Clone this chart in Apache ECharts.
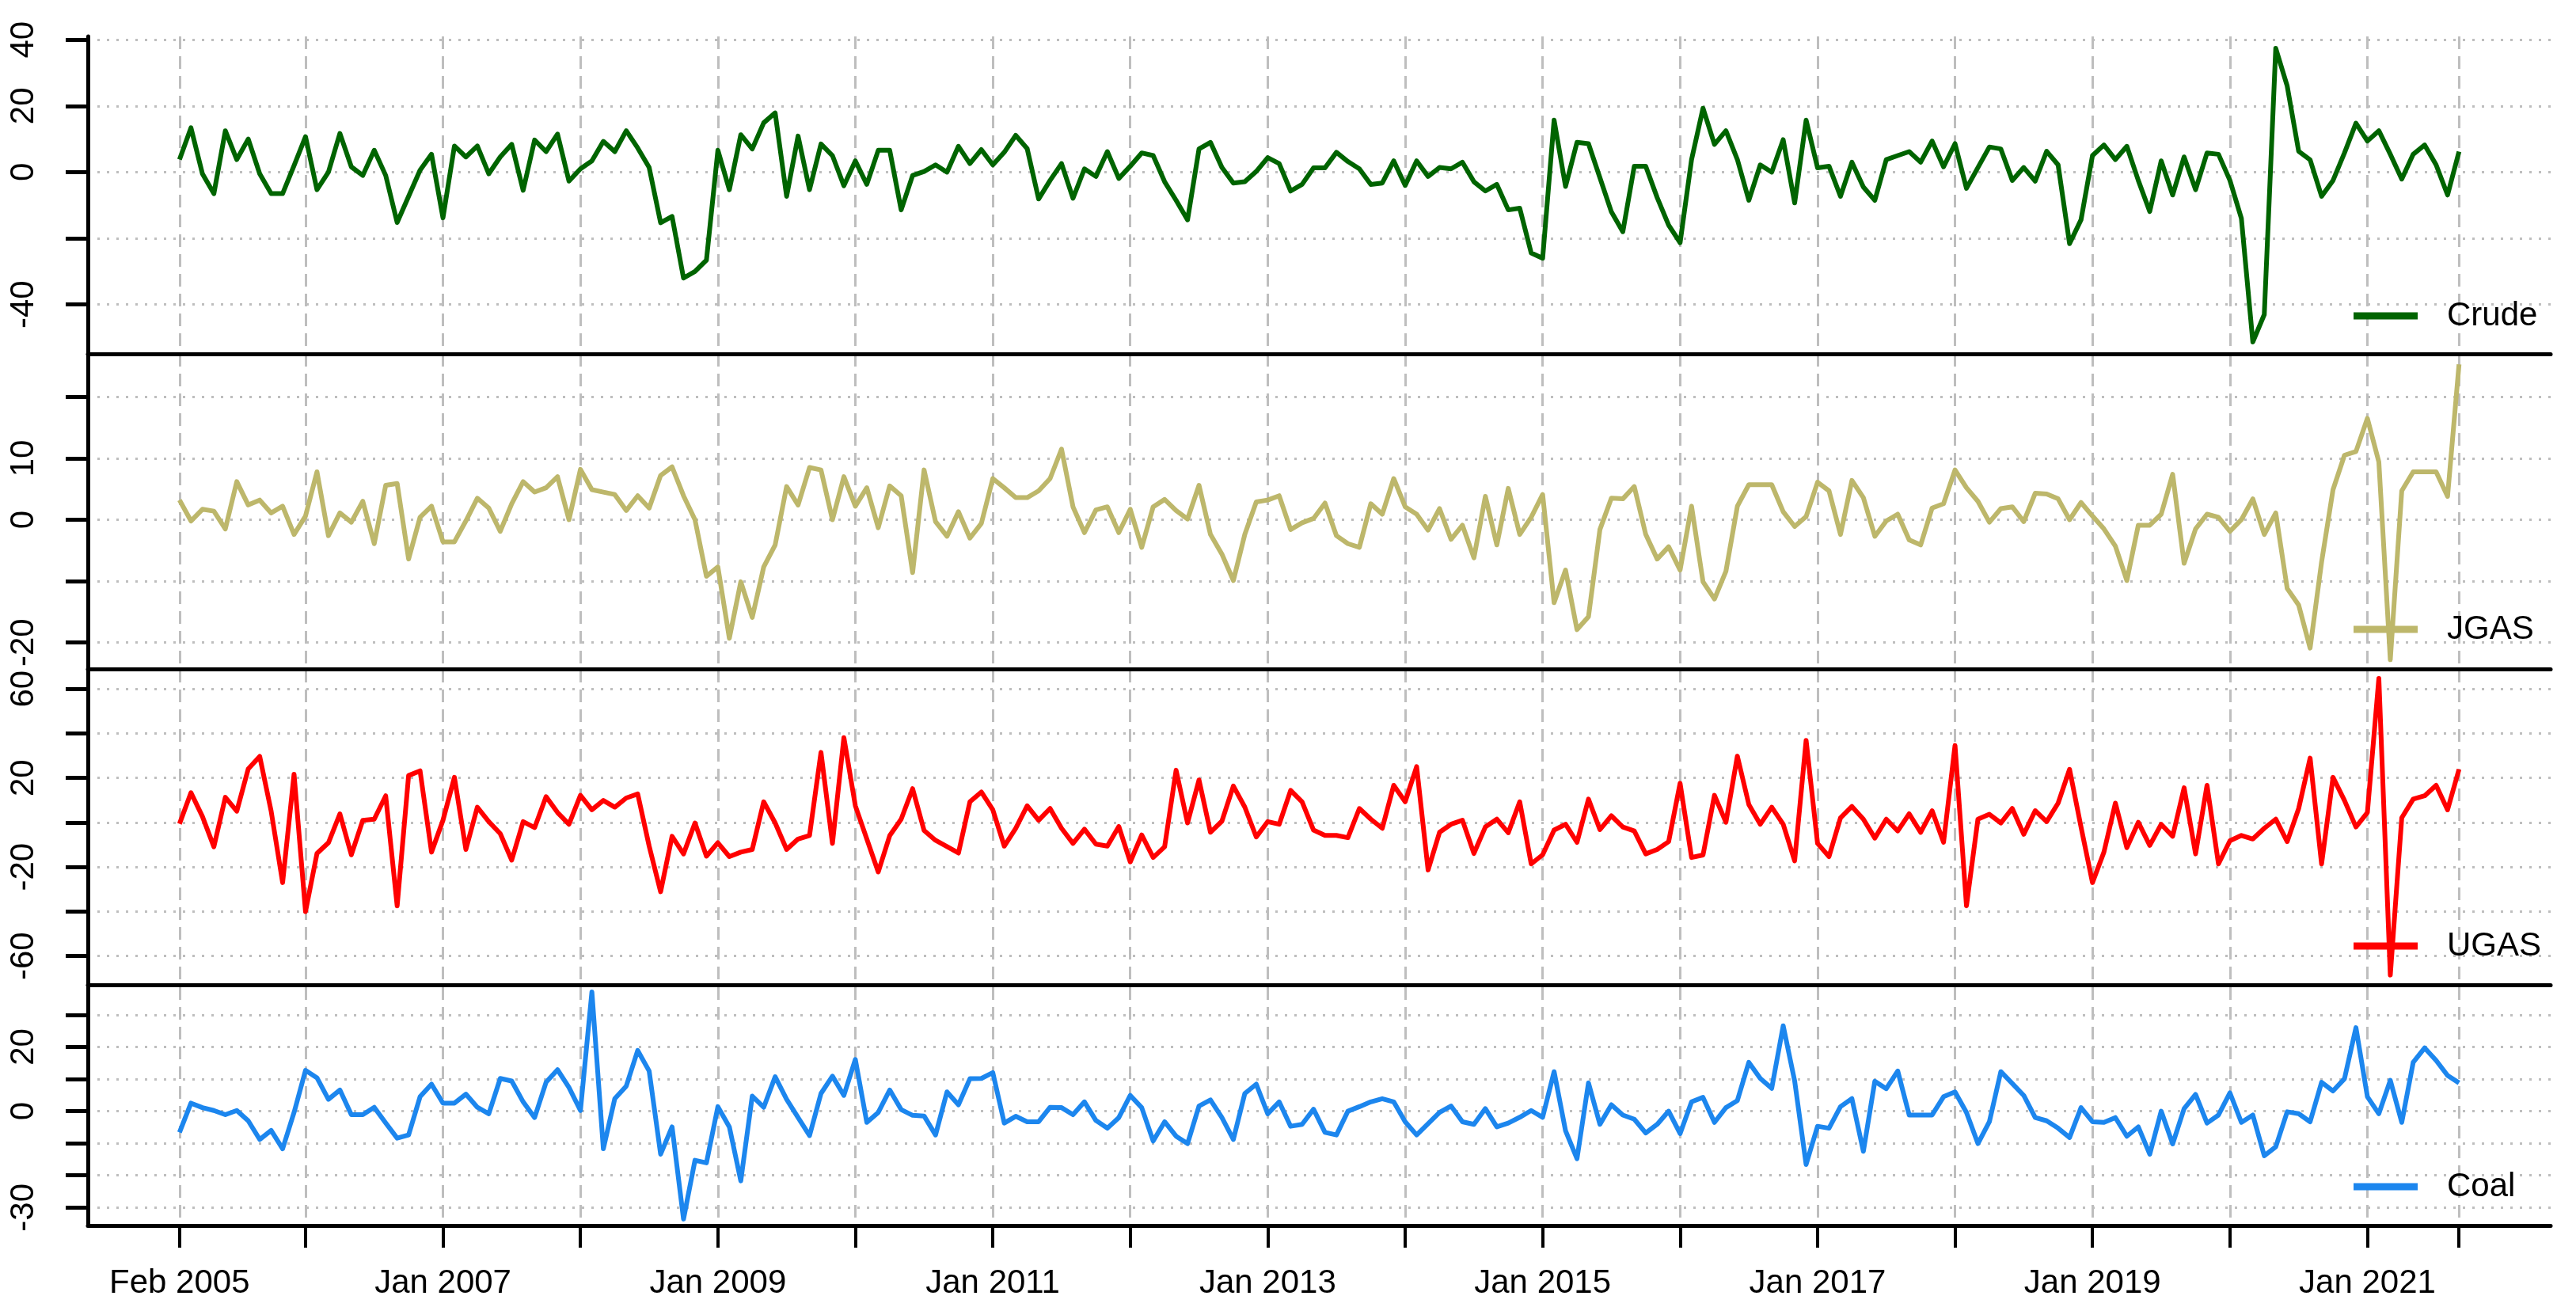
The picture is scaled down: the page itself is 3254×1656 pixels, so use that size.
<!DOCTYPE html>
<html>
<head>
<meta charset="utf-8">
<script src="https://cdn.jsdelivr.net/npm/echarts@6/dist/echarts.min.js"></script>
<style>
  html, body { margin: 0; padding: 0; background: #fff; }
  #chart-container { width: 3254px; height: 1656px; }
</style>
</head>
<body>
<div id="chart-container"></div>
<script>
// monthly values, Feb 2005 .. Sep 2021
const crude = [
  3.8, 13.4, -0.5, -6.5, 12.5, 3.8, 10, -0.5, -6.5, -6.5,
  2, 10.7, -5.3, 0, 11.7, 1.6, -1, 6.6, -1, -15.2,
  -7.3, 0.6, 5.4, -13.8, 7.9, 4.6, 7.9, -0.5, 4.6, 8.4,
  -5.5, 9.7, 6.2, 11.5, -2.7, 1, 3.4, 9.3, 6.2, 12.5,
  7.3, 1.4, -15.3, -13.4, -32, -30, -26.6, 6.6, -5.3, 11.3,
  7, 14.9, 17.9, -7.3, 10.9, -5.3, 8.5, 5, -4.1, 3.4,
  -3.7, 6.6, 6.6, -11.4, -1, 0.2, 2.2, 0, 7.8, 2.6,
  6.8, 2.2, 6, 11.1, 7.1, -8.1, -2.5, 2.6, -7.9, 1,
  -1.3, 6.2, -1.9, 1.8, 5.8, 5, -2.9, -8.5, -14.4, 7,
  9, 1.4, -3.3, -2.9, 0.2, 4.4, 2.6, -5.7, -3.7, 1.3,
  1.3, 6, 3.2, 1, -3.7, -3.3, 3.4, -4, 3.4, -1.3,
  1.4, 1, 3, -2.9, -5.7, -3.7, -11.4, -10.9, -24.4, -26,
  15.7, -4.3, 9, 8.6, -1.7, -12, -18, 1.8, 1.8, -7.7,
  -16, -21.3, 3.8, 19.3, 8.4, 12.5, 3.8, -8.5, 2.2, 0,
  9.8, -9.3, 15.7, 1.3, 1.8, -7.3, 3, -4.5, -8.5, 3.8,
  5, 6.2, 3, 9.4, 1.6, 8.6, -4.9, 1.4, 7.6, 7,
  -2.5, 1.4, -2.7, 6.3, 2.2, -21.6, -14.4, 5, 8.2, 3.8,
  7.8, -2.5, -11.9, 3.4, -6.9, 4.6, -5.3, 5.8, 5.4, -2.5,
  -14, -51.3, -43, 37.4, 26, 6.3, 3.7, -7.3, -2.5, 5.8,
  14.8, 9.4, 12.5, 5.4, -2.1, 5.4, 8.2, 2.2, -6.9, 6.2
];
const jgas = [
  3.2, -0.2, 1.7, 1.4, -1.5, 6.2, 2.4, 3.2, 1.1, 2.2,
  -2.4, 0.6, 7.8, -2.6, 1.1, -0.4, 3, -3.9, 5.6, 5.9,
  -6.4, 0.4, 2.2, -3.6, -3.6, -0.2, 3.5, 1.9, -1.9, 2.6,
  6.2, 4.5, 5.2, 7, 0, 8.2, 4.9, 4.5, 4.1, 1.5,
  3.9, 1.9, 7.2, 8.6, 3.9, 0, -9.2, -7.7, -19.3, -10.1,
  -15.9, -7.7, -4.1, 5.4, 2.4, 8.5, 8.1, 0, 7, 2.2,
  5.2, -1.3, 5.5, 3.9, -8.6, 8.1, -0.3, -2.7, 1.3, -3,
  -0.6, 6.7, 5.2, 3.6, 3.6, 4.7, 6.7, 11.5, 2.1, -2.1,
  1.6, 2.1, -2.1, 1.7, -4.5, 2.1, 3.3, 1.5, 0.1, 5.6,
  -2.4, -5.6, -9.9, -2.4, 2.9, 3.2, 3.9, -1.6, -0.5, 0.2,
  2.7, -2.6, -3.9, -4.5, 2.6, 0.9, 6.7, 2.1, 0.9, -1.7,
  1.8, -3.2, -0.9, -6.2, 3.8, -4.1, 5.1, -2.4, 0.4, 4.1,
  -13.5, -8.2, -17.9, -15.8, -1.6, 3.5, 3.4, 5.4, -2.4, -6.4,
  -4.4, -8.2, 2.2, -10.1, -12.9, -8.4, 2.2, 5.7, 5.7, 5.7,
  1.3, -1.1, 0.5, 6.1, 4.7, -2.4, 6.4, 3.6, -2.7, -0.2,
  0.9, -3.3, -4.1, 1.9, 2.6, 8.1, 5.2, 3, -0.4, 1.8,
  2.1, -0.3, 4.3, 4.2, 3.4, 0, 2.8, 0.6, -1.5, -4.3,
  -9.9, -0.9, -0.9, 0.9, 7.4, -7.1, -1.5, 0.9, 0.4, -1.9,
  0, 3.4, -2.4, 1.1, -11.2, -13.9, -20.9, -6.9, 4.9, 10.5,
  11.1, 16.5, 9.4, -22.8, 4.7, 7.8, 7.8, 7.8, 3.8, 25.3
];
const ugas = [
  -0.6, 13.4, 2.7, -10.9, 11.3, 5.1, 24.1, 29.7, 5.1, -27,
  21.7, -40, -13.9, -9.1, 3.9, -14.5, 1, 1.5, 12, -37.4,
  21.1, 23.2, -13.3, 1, 20.3, -12.1, 6.9, 0.4, -5, -16.9,
  0.4, -2.3, 11.6, 4.5, -0.8, 12.2, 5.7, 9.9, 6.9, 11,
  12.8, -10.6, -31.1, -6.2, -14.1, -0.2, -15.1, -9.1, -15.3, -13.3,
  -12.1, 9.3, -0.2, -12.1, -7.4, -5.8, 31.5, -9.4, 38.1, 7.5,
  -7.4, -22.2, -5.9, 1.5, 15.2, -3.6, -8, -10.8, -13.7, 9.3,
  13.7, 5.7, -10.6, -2.6, 7.5, 1, 6.3, -2.6, -9.4, -3,
  -9.7, -10.6, -1.8, -17.7, -5.6, -15.7, -10.9, 23.5, -0.2, 19.1,
  -4.4, 0.6, 16.4, 6.9, -6.5, 0.4, -0.8, 14.4, 9.3, -3.4,
  -5.8, -5.8, -6.8, 6.3, 1.5, -2.6, 16.7, 9.3, 25.1, -21.3,
  -4.4, -0.8, 1, -13.9, -2, 1.5, -4.6, 9.3, -18.6, -14.5,
  -3.4, -0.8, -8.9, 10.5, -3.2, 3, -2, -3.8, -14.1, -12.1,
  -8.6, 17.6, -15.7, -14.6, 12.2, 0.1, 29.8, 8.1, -0.8, 6.9,
  -0.8, -17.2, 36.9, -9.4, -15.3, 2.1, 7.2, 1.5, -7, 1.5,
  -3.8, 3.9, -4.4, 5.3, -8.9, 34.6, -37.4, 1.5, 3.7, -0.2,
  6.3, -5.3, 5.3, 0.4, 8.7, 23.9, -2, -27, -13.3, 8.7,
  -11.3, 0.1, -10.3, -0.8, -6.2, 15.6, -14.1, 16.7, -18.6, -8.2,
  -5.8, -7.4, -2.6, 1.5, -8.6, 6.3, 28.9, -18.6, 20.3, 9.9,
  -2, 4.5, 64.7, -68.5, 2.1, 10.5, 12, 16.7, 5.7, 23.9
];
const coal = [
  -6.6, 2.5, 1.1, 0.2, -1.1, 0.2, -3, -8.8, -6, -11.7,
  -0.4, 12.7, 10.4, 3.7, 6.6, -1.1, -1.1, 1.2, -3.7, -8.4,
  -7.4, 4.5, 8.4, 2.5, 2.5, 5.3, 1.2, -0.8, 10.2, 9.4,
  2.9, -2, 9, 12.9, 7.4, 0.2, 37.1, -11.7, 3.9, 7.8,
  18.9, 12.5, -13.4, -4.9, -33.6, -15.3, -16.1, 1.4, -4.9, -21.7,
  4.7, 1.2, 10.7, 3.7, -2, -7.6, 5.5, 10.9, 4.9, 16.1,
  -3.5, -0.4, 6.6, 0.5, -1.3, -1.5, -7.4, 6, 2, 10.1,
  10.2, 12, -3.7, -1.6, -3.3, -3.3, 1.2, 1.1, -1.1, 2.9,
  -2.9, -5.3, -2, 4.9, 1.1, -9.3, -3.3, -7.8, -10.1, 1.6,
  3.5, -2, -8.8, 5.5, 8.4, -0.8, 2.9, -4.7, -4.1, 0.6,
  -6.6, -7.4, 0, 1.4, 2.9, 3.9, 2.9, -3.3, -7.4, -3.9,
  -0.4, 1.6, -3.3, -4.1, 0.8, -4.9, -3.7, -1.9, 0.2, -1.9,
  12.3, -6.1, -14.8, 8.8, -4.1, 2, -1.2, -2.5, -6.8, -4.1,
  0, -7, 2.9, 4.3, -3.5, 1.1, 3.3, 15.2, 10.2, 7.1,
  26.6, 9.4, -16.6, -4.7, -5.3, 1.4, 3.9, -12.5, 9.3, 7,
  12.5, -1.2, -1.2, -1.2, 4.5, 6, -0.4, -10.1, -3.3, 12.3,
  8.6, 4.9, -2, -3, -5.3, -8.2, 1.1, -3.3, -3.5, -2,
  -7.8, -4.9, -13.4, 0, -10.2, 0.8, 5.2, -3.7, -1.2, 5.7,
  -3.5, -1.2, -13.9, -11.1, -0.2, -0.8, -3.3, 9, 6.3, 10.1,
  26, 4.5, -0.8, 9.6, -3.5, 15.2, 19.7, 15.8, 11.1, 8.8
];

// x ticks / grid lines and the labelled ones
const gridMonths = ['2005-02', '2006-01', '2007-01', '2008-01', '2009-01', '2010-01',
  '2011-01', '2012-01', '2013-01', '2014-01', '2015-01', '2016-01', '2017-01',
  '2018-01', '2019-01', '2020-01', '2021-01', '2021-09'];
const labelMonths = ['2005-02', '2007-01', '2009-01', '2011-01', '2013-01', '2015-01',
  '2017-01', '2019-01', '2021-01'];
const monthNames = ['Jan', 'Feb', 'Mar', 'Apr', 'May', 'Jun', 'Jul', 'Aug', 'Sep', 'Oct', 'Nov', 'Dec'];

// y ticks and labels per panel
const panels = [
  { name: 'Crude', color: '#006400', data: crude, min: -54.9, max: 41,
    ticks: [-40, -20, 0, 20, 40], labels: [-40, 0, 20, 40] },
  { name: 'JGAS', color: '#BDB76B', data: jgas, min: -24.3, max: 27,
    ticks: [-20, -10, 0, 10, 20], labels: [-20, 0, 10] },
  { name: 'UGAS', color: '#FF0000', data: ugas, min: -72.9, max: 68.6,
    ticks: [-60, -40, -20, 0, 20, 40, 60], labels: [-60, -20, 20, 60] },
  { name: 'Coal', color: '#1C86EE', data: coal, min: -35.6, max: 38.6,
    ticks: [-30, -20, -10, 0, 10, 20, 30], labels: [-30, 0, 20] },
];

// category axis runs Jun 2004 .. May 2022 so the data sit inside like R's padding
const months = [];
for (let i = 0; i < 216; i++) {
  let y = 2004 + Math.floor((5 + i) / 12);
  let m = (5 + i) % 12 + 1;
  months.push(y + '-' + String(m).padStart(2, '0'));
}
const pad = months.indexOf('2005-02');

const layout = [
  { top: 46, height: 401, legendY: 373 },
  { top: 447, height: 398, legendY: 769 },
  { top: 846, height: 398, legendY: 1169 },
  { top: 1247, height: 301, legendY: 1473 },
];

const font = 'Liberation Sans, Arial, sans-serif';
const grey = '#BEBEBE';

let grids = [], xAxes = [], yAxes = [], series = [], legends = [];
panels.forEach((p, i) => {
  const last = i === panels.length - 1;
  grids.push({ left: 111, right: 32, top: layout[i].top, height: layout[i].height });
  xAxes.push({
    type: 'category',
    gridIndex: i,
    data: months,
    boundaryGap: false,
    axisLine: { show: true, onZero: false, lineStyle: { color: '#000', width: 5 } },
    axisTick: {
      show: last,
      length: 28,
      interval: (idx, v) => gridMonths.includes(v),
      lineStyle: { color: '#000', width: 4 },
    },
    axisLabel: {
      show: last,
      interval: (idx, v) => labelMonths.includes(v),
      formatter: (v) => monthNames[+v.slice(5) - 1] + ' ' + v.slice(0, 4),
      margin: 52,
      fontSize: 42,
      fontFamily: font,
      color: '#000',
    },
    splitLine: {
      show: true,
      interval: (idx, v) => gridMonths.includes(v),
      lineStyle: { color: grey, width: 3, type: [16, 9] },
    },
  });
  yAxes.push({
    type: 'value',
    gridIndex: i,
    min: p.min,
    max: p.max,
    axisLine: { show: true, onZero: false, lineStyle: { color: '#000', width: 5 } },
    axisTick: { show: true, length: 28, customValues: p.ticks, lineStyle: { color: '#000', width: 5 } },
    axisLabel: {
      customValues: p.labels,
      rotate: 90,
      margin: 60,
      fontSize: 42,
      fontFamily: font,
      color: '#000',
    },
    splitLine: { show: true, lineStyle: { color: grey, width: 3, type: [3, 9] } },
  });
  series.push({
    name: p.name,
    type: 'line',
    xAxisIndex: i,
    yAxisIndex: i,
    symbol: 'none',
    lineStyle: { color: p.color, width: 6, join: 'round' },
    itemStyle: { color: p.color },
    data: new Array(pad).fill(null).concat(p.data),
  });
  legends.push({
    data: [p.name],
    left: 2968,
    top: layout[i].legendY,
    icon: 'rect',
    itemWidth: 81,
    itemHeight: 9,
    textStyle: { fontSize: 42, fontFamily: font, color: '#000', padding: [0, 0, 0, 32] },
  });
});

const option = {
  animation: false,
  backgroundColor: '#fff',
  grid: grids,
  xAxis: xAxes,
  yAxis: yAxes,
  legend: legends,
  series,
};

var myChart = echarts.init(document.getElementById('chart-container'));
myChart.setOption(option);
window.addEventListener('resize', myChart.resize);
</script>
</body>
</html>
